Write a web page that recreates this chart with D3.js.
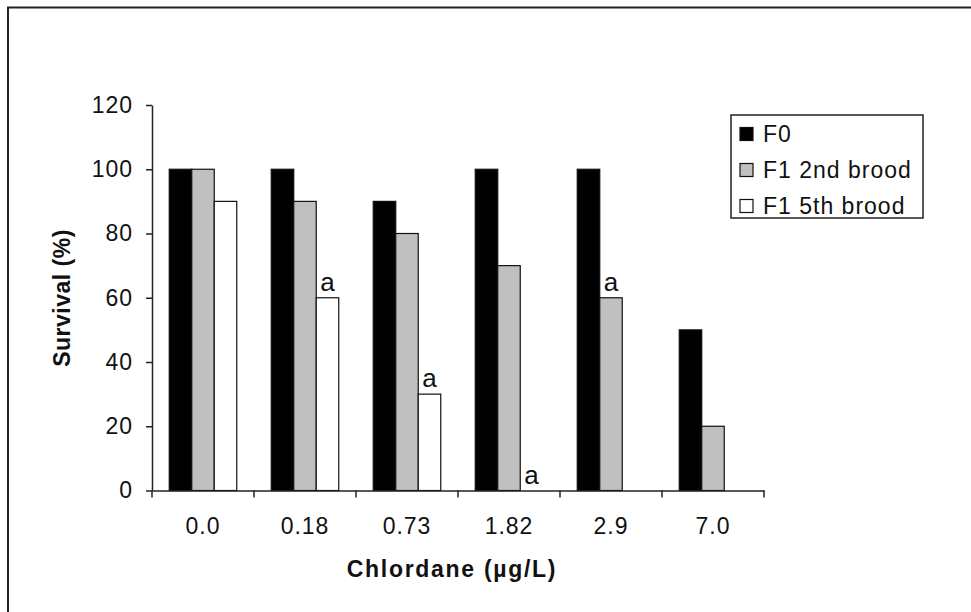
<!DOCTYPE html>
<html>
<head>
<meta charset="utf-8">
<script src="https://cdn.jsdelivr.net/npm/d3@7/dist/d3.min.js"></script>
<style>
  body { margin: 0; background: #fff; }
  svg text { font-family: Arial, "Liberation Sans", sans-serif; fill: #111; }
</style>
</head>
<body>
<div id="chart"></div>
<script>
var categories = ['0.0', '0.18', '0.73', '1.82', '2.9', '7.0'];
var seriesNames = ['F0', 'F1 2nd brood', 'F1 5th brood'];
var f0 = [100, 100, 90, 100, 100, 50];
var f1Second = [100, 90, 80, 70, 60, 20];
var f1Fifth = [90, 60, 30, 0, null, null];
var yTicks = [0, 20, 40, 60, 80, 100, 120];
// significance marks: [category index, series index]
var marks = [[1, 2], [2, 2], [3, 2], [4, 1]];

var seriesValues = [f0, f1Second, f1Fifth];
var fills = ['#000000', '#c0c0c0', '#ffffff'];

var width = 971, height = 612;
var plot = { left: 152, right: 764, top: 105, bottom: 490.5 };

var svg = d3.select('#chart').append('svg')
  .attr('width', width)
  .attr('height', height);

// outer frame (only top and left edges are visible)
svg.append('path')
  .attr('d', 'M8,612V7.5H971')
  .attr('fill', 'none')
  .attr('stroke', '#222')
  .attr('stroke-width', 2);

var x = d3.scaleBand().domain(categories).range([plot.left, plot.right]);
var xs = d3.scaleBand().domain(seriesNames)
  .range([17.25, x.bandwidth() - 17.25]);
var y = d3.scaleLinear().domain([0, 120]).range([plot.bottom, plot.top]);

// bars
var rows = [];
seriesValues.forEach(function(vals, s) {
  vals.forEach(function(v, i) {
    if (v !== null) rows.push({ cat: categories[i], s: s, v: v });
  });
});

svg.append('g').selectAll('rect')
  .data(rows)
  .enter().append('rect')
  .attr('x', function(d) { return x(d.cat) + xs(seriesNames[d.s]); })
  .attr('y', function(d) { return y(d.v); })
  .attr('width', xs.bandwidth())
  .attr('height', function(d) { return y(0) - y(d.v); })
  .attr('fill', function(d) { return fills[d.s]; })
  .attr('stroke', '#111')
  .attr('stroke-width', 1.2);

// "a" marks
svg.append('g').selectAll('text')
  .data(marks)
  .enter().append('text')
  .attr('x', function(d) { return x(categories[d[0]]) + xs(seriesNames[d[1]]) + xs.bandwidth() / 2; })
  .attr('y', function(d) { return y(seriesValues[d[1]][d[0]]) - 7; })
  .attr('text-anchor', 'middle')
  .style('font-size', '26px')
  .text('a');

// y axis
var yAxis = d3.axisLeft(y).tickValues(yTicks).tickSize(6).tickSizeOuter(0).tickPadding(13);
var gy = svg.append('g')
  .attr('transform', 'translate(' + plot.left + ',0)')
  .call(yAxis);
gy.selectAll('path, line').attr('stroke', '#222').attr('stroke-width', 1.5);
gy.selectAll('text').style('font-size', '23px').style('letter-spacing', '1px').attr('fill', '#111');

// x axis: labels centered, ticks at category boundaries
var xAxis = d3.axisBottom(x).tickSize(0).tickSizeOuter(0).tickPadding(27);
var gx = svg.append('g')
  .attr('transform', 'translate(0,' + plot.bottom + ')')
  .call(xAxis);
gx.select('.domain').attr('stroke', '#222').attr('stroke-width', 1.5);
gx.selectAll('text').style('font-size', '23px').style('letter-spacing', '1px').attr('fill', '#111');

var bounds = categories.map(function(c) { return x(c); }).concat([plot.right]);
gx.selectAll('.bound')
  .data(bounds)
  .enter().append('line')
  .attr('class', 'bound')
  .attr('x1', function(d) { return d; })
  .attr('x2', function(d) { return d; })
  .attr('y1', 0)
  .attr('y2', 7)
  .attr('stroke', '#222')
  .attr('stroke-width', 1.5);

// axis titles
svg.append('text')
  .attr('x', 452)
  .attr('y', 577)
  .attr('text-anchor', 'middle')
  .style('font-size', '23px')
  .style('font-weight', 'bold')
  .style('letter-spacing', '1.7px')
  .text('Chlordane (µg/L)');

svg.append('text')
  .attr('transform', 'translate(70,298) rotate(-90)')
  .attr('text-anchor', 'middle')
  .style('font-size', '23px')
  .style('font-weight', 'bold')
  .style('letter-spacing', '0.5px')
  .text('Survival (%)');

// legend
var legend = svg.append('g');
legend.append('rect')
  .attr('x', 731).attr('y', 115)
  .attr('width', 192).attr('height', 103)
  .attr('fill', '#fff')
  .attr('stroke', '#222')
  .attr('stroke-width', 1.5);

var items = legend.selectAll('.item')
  .data(seriesNames)
  .enter().append('g')
  .attr('class', 'item')
  .attr('transform', function(d, i) { return 'translate(740,' + (134 + i * 36) + ')'; });

items.append('rect')
  .attr('x', 0).attr('y', -6.5)
  .attr('width', 13).attr('height', 13)
  .attr('fill', function(d, i) { return fills[i]; })
  .attr('stroke', '#111')
  .attr('stroke-width', 1.2);

items.append('text')
  .attr('x', 23)
  .attr('y', 8)
  .style('font-size', '23px')
  .style('letter-spacing', '1px')
  .text(function(d) { return d; });
</script>
</body>
</html>
